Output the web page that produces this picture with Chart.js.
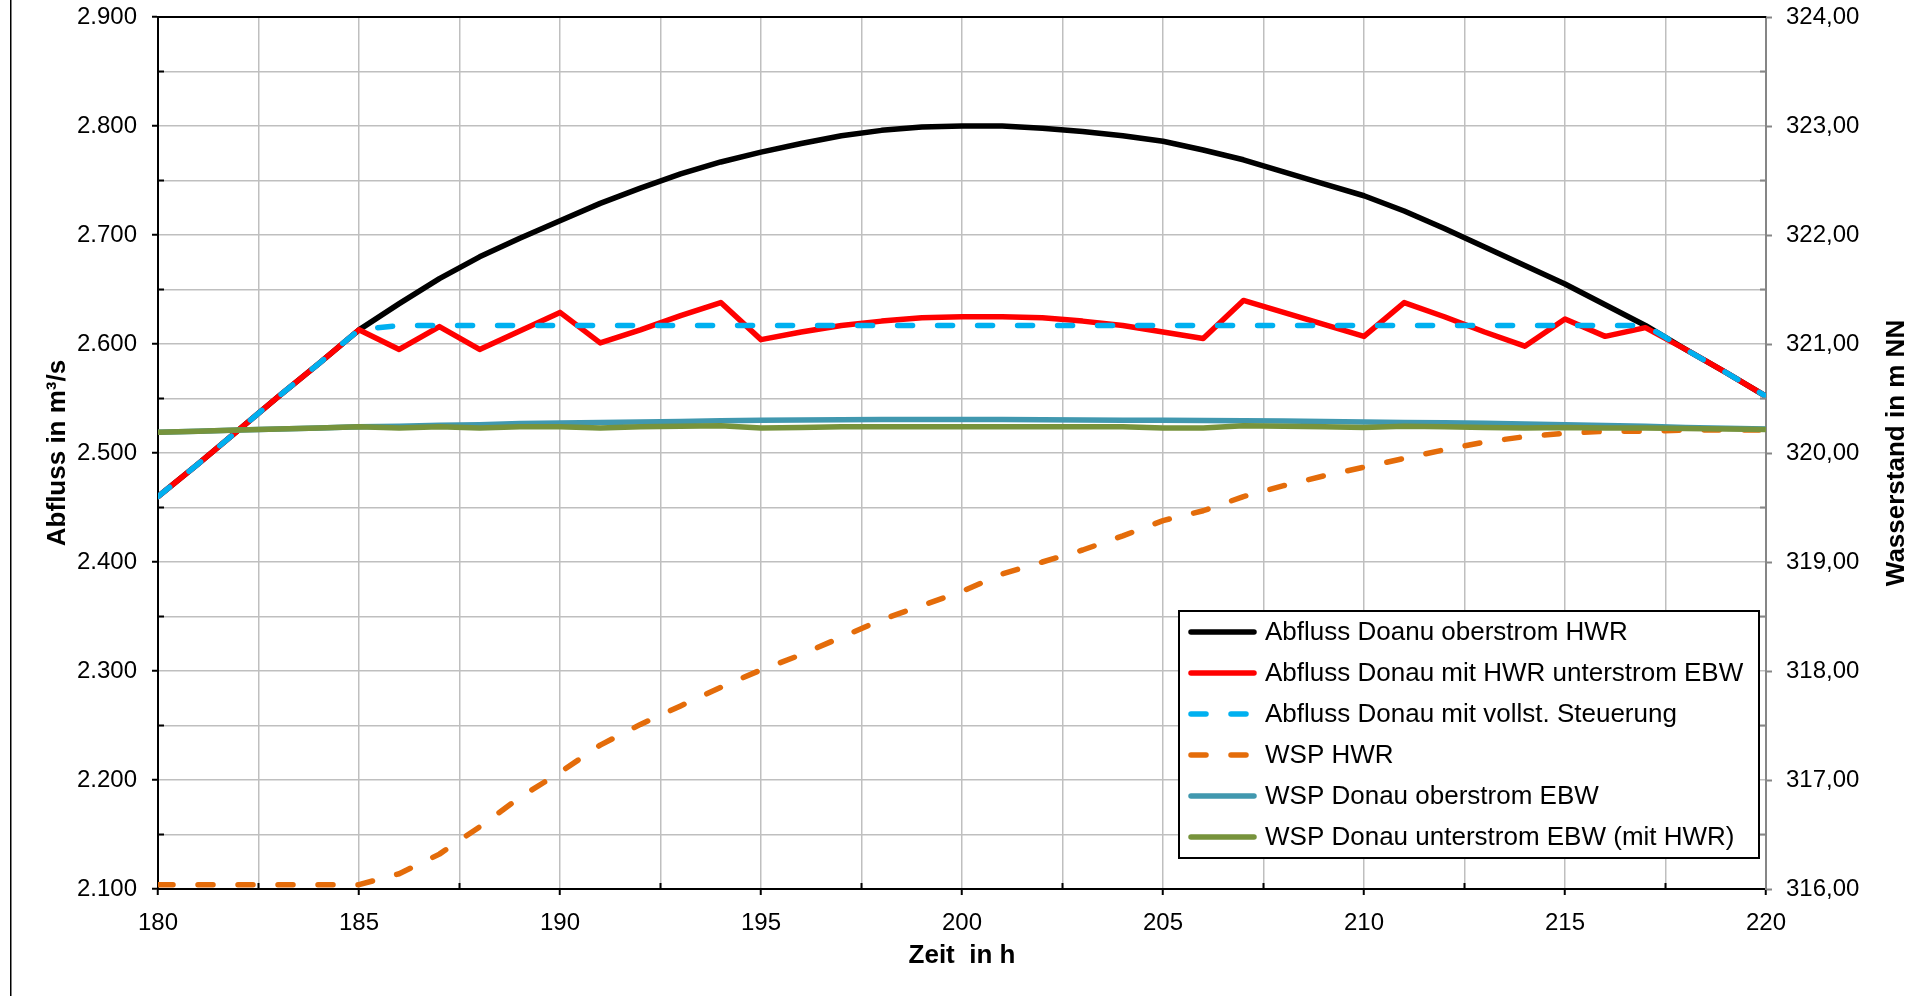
<!DOCTYPE html>
<html>
<head>
<meta charset="utf-8">
<script src="https://cdn.jsdelivr.net/npm/chart.js@4.4.1/dist/chart.umd.min.js"></script>
<style>
  html, body { margin: 0; padding: 0; background: #fff; overflow: hidden; }
  canvas { display: block; }
</style>
</head>
<body>
<canvas id="chart" width="1924" height="996"></canvas>
<script>
// Zeit in h
const stunden = [180, 181, 182, 183, 184, 185, 186, 187, 188, 189, 190, 191, 192, 193, 194, 195, 196, 197, 198, 199, 200,
                 201, 202, 203, 204, 205, 206, 207, 208, 209, 210, 211, 212, 213, 214, 215, 216, 217, 218, 219, 220];

// Abfluss in m³/s (linke Achse)
const abflussOberstromHWR = [2460, 2490, 2521, 2552, 2582, 2613, 2637, 2660, 2680, 2697, 2713, 2729, 2743, 2756, 2767, 2776, 2784, 2791, 2796, 2799, 2800,
                             2800, 2798, 2795, 2791, 2786, 2778, 2769, 2758, 2747, 2736, 2722, 2706, 2689, 2672, 2655, 2636, 2617, 2595, 2574, 2552];
const abflussMitHWR = [2460, 2490, 2521, 2552, 2582, 2613, 2595, 2616, 2595, 2612, 2629, 2601, 2613, 2626, 2638, 2604, 2611, 2617, 2621, 2624, 2625,
                       2625, 2624, 2621, 2617, 2611, 2605, 2640, 2629, 2618, 2607, 2638, 2625, 2611, 2598, 2623, 2607, 2615, 2595, 2574, 2552];
const abflussSteuerung = [2460, 2490, 2521, 2552, 2582, 2613, 2617, 2617, 2617, 2617, 2617, 2617, 2617, 2617, 2617, 2617, 2617, 2617, 2617, 2617, 2617,
                          2617, 2617, 2617, 2617, 2617, 2617, 2617, 2617, 2617, 2617, 2617, 2617, 2617, 2617, 2617, 2617, 2617, 2595, 2574, 2552];

// Wasserstand in m NN (rechte Achse)
const wspHWR = [316.04, 316.04, 316.04, 316.04, 316.04, 316.04, 316.14, 316.32, 316.57, 316.84, 317.07, 317.32, 317.51, 317.68, 317.85, 318.01, 318.15, 318.31, 318.47, 318.60, 318.73,
                318.89, 319.00, 319.11, 319.24, 319.38, 319.47, 319.60, 319.70, 319.79, 319.87, 319.95, 320.03, 320.10, 320.15, 320.18, 320.20, 320.20, 320.21, 320.21, 320.21];
const wspOberstromEBW = [320.19, 320.20, 320.21, 320.22, 320.23, 320.24, 320.245, 320.255, 320.26, 320.27, 320.275, 320.28, 320.285, 320.29, 320.295, 320.30, 320.302, 320.305, 320.307, 320.307, 320.307,
                         320.307, 320.305, 320.303, 320.30, 320.30, 320.298, 320.296, 320.294, 320.29, 320.285, 320.28, 320.278, 320.272, 320.266, 320.26, 320.253, 320.245, 320.235, 320.228, 320.22];
const wspUnterstromEBW = [320.19, 320.20, 320.21, 320.22, 320.23, 320.24, 320.23, 320.24, 320.23, 320.24, 320.24, 320.23, 320.24, 320.245, 320.25, 320.23, 320.235, 320.24, 320.24, 320.24, 320.24,
                          320.24, 320.24, 320.24, 320.24, 320.23, 320.23, 320.25, 320.245, 320.24, 320.235, 320.245, 320.24, 320.235, 320.23, 320.235, 320.23, 320.23, 320.225, 320.22, 320.215];

const schrift = "'Liberation Sans', Arial, sans-serif";
const strich = [15, 25];

function punkte(werte) {
    return stunden.map((h, i) => ({ x: h, y: werte[i] }));
}

function formatAbfluss(v) {
    const s = String(Math.round(v));
    return s.slice(0, -3) + '.' + s.slice(-3);
}

function formatWsp(v) {
    return v.toFixed(2).replace('.', ',');
}

function linie(label, werte, farbe, achse, ordnung, dash) {
    return {
        label: label,
        data: punkte(werte),
        yAxisID: achse,
        borderColor: farbe,
        backgroundColor: farbe,
        borderWidth: 5.5,
        borderDash: dash || [],
        borderCapStyle: 'round',
        borderJoinStyle: 'round',
        pointRadius: 0,
        tension: 0,
        fill: false,
        order: ordnung
    };
}

// feste Breite für senkrechte Achsen, ohne Zusatzabstand oben/unten
function senkrecht(s) {
    s.width = 158;
    s.paddingTop = 0;
    s.paddingBottom = 0;
}

// Legende, kleine Striche und rechter Achsentitel
const extras = {
    id: 'extras',
    afterDraw(chart) {
        const { ctx, chartArea: a, scales } = chart;
        ctx.save();

        // linker Rahmen
        ctx.strokeStyle = '#000';
        ctx.lineWidth = 1.5;
        ctx.beginPath();
        ctx.moveTo(10.75, 0);
        ctx.lineTo(10.75, chart.height);
        ctx.stroke();

        // oberer Rand der Zeichenfläche
        ctx.lineWidth = 2;
        ctx.beginPath();
        ctx.moveTo(a.left - 1, a.top);
        ctx.lineTo(a.right, a.top);
        ctx.stroke();

        // Hilfsstriche nach innen
        ctx.lineWidth = 2;
        ctx.strokeStyle = '#000';
        for (let v = 2150; v < 2900; v += 100) {
            const y = scales.y.getPixelForValue(v);
            ctx.beginPath(); ctx.moveTo(a.left, y); ctx.lineTo(a.left + 6, y); ctx.stroke();
        }
        for (let h = 182.5; h < 220; h += 5) {
            const x = scales.x.getPixelForValue(h);
            ctx.beginPath(); ctx.moveTo(x, a.bottom); ctx.lineTo(x, a.bottom - 6); ctx.stroke();
        }
        ctx.strokeStyle = '#868686';
        for (let v = 316.5; v < 324; v += 1) {
            const y = scales.y2.getPixelForValue(v);
            ctx.beginPath(); ctx.moveTo(a.right, y); ctx.lineTo(a.right - 6, y); ctx.stroke();
        }

        // rechter Achsentitel
        ctx.fillStyle = '#000';
        ctx.font = 'bold 26px ' + schrift;
        ctx.textAlign = 'center';
        ctx.textBaseline = 'middle';
        ctx.translate(1897, (a.top + a.bottom) / 2);
        ctx.rotate(-Math.PI / 2);
        ctx.fillText('Wasserstand in m NN', 0, 0);
        ctx.setTransform(1, 0, 0, 1, 0, 0);

        // Legende
        const lx = 1179, ly = 611, lw = 580, lh = 247;
        ctx.fillStyle = '#fff';
        ctx.fillRect(lx, ly, lw, lh);
        ctx.strokeStyle = '#000';
        ctx.lineWidth = 2;
        ctx.strokeRect(lx, ly, lw, lh);
        ctx.font = '26px ' + schrift;
        ctx.textAlign = 'left';
        chart.data.datasets.forEach((ds, i) => {
            const y = 632 + i * 41;
            ctx.strokeStyle = ds.borderColor;
            ctx.lineWidth = 5.5;
            ctx.lineCap = 'round';
            ctx.setLineDash(ds.borderDash);
            ctx.beginPath();
            ctx.moveTo(1191, y);
            ctx.lineTo(1254, y);
            ctx.stroke();
            ctx.setLineDash([]);
            ctx.fillStyle = '#000';
            ctx.fillText(ds.label, 1265, y + 1);
        });

        ctx.restore();
    }
};

const ctx = document.getElementById('chart').getContext('2d');
new Chart(ctx, {
    type: 'line',
    data: {
        datasets: [
            linie('Abfluss Doanu oberstrom HWR', abflussOberstromHWR, '#000000', 'y', 6),
            linie('Abfluss Donau mit HWR unterstrom EBW', abflussMitHWR, '#FF0000', 'y', 5),
            linie('Abfluss Donau mit vollst. Steuerung', abflussSteuerung, '#00B0F0', 'y', 4, strich),
            linie('WSP HWR', wspHWR, '#E46C0A', 'y2', 3, strich),
            linie('WSP Donau oberstrom EBW', wspOberstromEBW, '#4198AF', 'y2', 2),
            linie('WSP Donau unterstrom EBW (mit HWR)', wspUnterstromEBW, '#77933C', 'y2', 1)
        ]
    },
    options: {
        responsive: false,
        animation: false,
        devicePixelRatio: 1,
        layout: { padding: { top: 17, left: 0, right: 0, bottom: 0 } },
        plugins: {
            legend: { display: false },
            tooltip: { enabled: false }
        },
        scales: {
            x: {
                type: 'linear',
                position: 'bottom',
                min: 180,
                max: 220,
                afterFit: s => { s.height = 107; },
                ticks: {
                    stepSize: 2.5,
                    autoSkip: false,
                    maxRotation: 0,
                    padding: 14,
                    color: '#000',
                    font: { family: schrift, size: 24 },
                    callback: v => (v % 5 === 0 ? String(v) : '')
                },
                grid: {
                    color: c => (c.tick && (c.tick.value === 180 || c.tick.value === 220) ? 'transparent' : '#bfbfbf'),
                    lineWidth: 1.5,
                    tickLength: 6,
                    tickColor: c => (c.tick && c.tick.value % 5 === 0 ? '#000' : 'transparent'),
                    tickWidth: 2
                },
                border: { color: '#000', width: 2 },
                title: {
                    display: true,
                    text: 'Zeit  in h',
                    color: '#000',
                    font: { family: schrift, size: 26, weight: 'bold' },
                    padding: { top: 4, bottom: 25 }
                }
            },
            y: {
                type: 'linear',
                position: 'left',
                min: 2100,
                max: 2900,
                afterFit: senkrecht,
                ticks: {
                    stepSize: 50,
                    autoSkip: false,
                    padding: 15,
                    color: '#000',
                    font: { family: schrift, size: 24 },
                    callback: v => (v % 100 === 0 ? formatAbfluss(v) : '')
                },
                grid: {
                    color: c => (c.tick && (c.tick.value === 2100 || c.tick.value === 2900) ? 'transparent' : '#bfbfbf'),
                    lineWidth: 1.5,
                    tickLength: 6,
                    tickColor: c => (c.tick && c.tick.value % 100 === 0 ? '#000' : 'transparent'),
                    tickWidth: 2
                },
                border: { color: '#000', width: 2 },
                title: {
                    display: true,
                    text: 'Abfluss in m³/s',
                    color: '#000',
                    font: { family: schrift, size: 26, weight: 'bold' },
                    padding: { top: 42, bottom: 0 }
                }
            },
            y2: {
                type: 'linear',
                position: 'right',
                min: 316,
                max: 324,
                afterFit: senkrecht,
                ticks: {
                    stepSize: 1,
                    padding: 14,
                    color: '#000',
                    font: { family: schrift, size: 24 },
                    callback: v => formatWsp(v)
                },
                grid: {
                    drawOnChartArea: false,
                    tickLength: 6,
                    tickColor: '#868686',
                    tickWidth: 2
                },
                border: { color: '#868686', width: 2 }
            }
        }
    },
    plugins: [extras]
});
</script>
</body>
</html>
